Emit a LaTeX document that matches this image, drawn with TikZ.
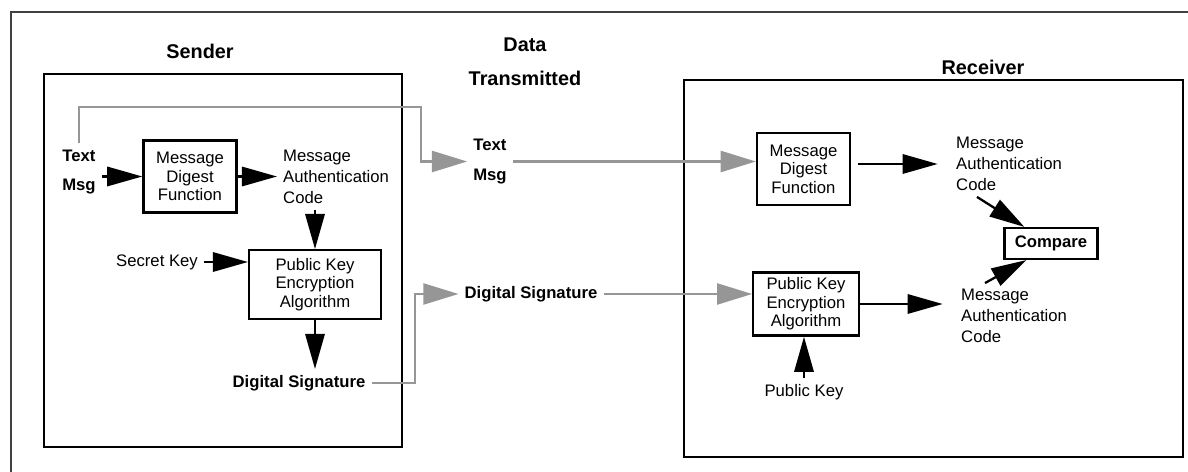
\documentclass[tikz,border=0pt]{standalone}
\usepackage{fontspec}
\setmainfont{Liberation Sans}
\usepackage{tikz}
\usetikzlibrary{arrows.meta,calc}
\usepackage{xcolor}
\definecolor{wire}{RGB}{150,150,150}

\begin{document}
\begin{tikzpicture}[x=0.02cm, y=-0.02cm,
    every node/.style={font=\fontsize{9.5}{10.5}\selectfont},
    heading/.style={font=\fontsize{11.3}{13.6}\selectfont\bfseries},
    tag/.style={font=\fontsize{9.5}{11.4}\selectfont\bfseries, align=center},
    fbox/.style={draw, line width=1.3pt, align=center, inner sep=2pt},
    mac/.style={font=\fontsize{9.5}{11.9}\selectfont, align=left, anchor=west},
    arr/.style={-{Triangle[length=20pt,width=11pt]}, line width=1.3pt},
    feed/.style={-{Triangle[length=20pt,width=12pt]}, draw=wire, line width=1.2pt},
    panel/.style={line width=1.5pt}]
    \useasboundingbox (0,0) rectangle (1188,472);
    \draw[line width=0.9pt, black!75] (11,472) -- (11,12) -- (1188,12);

    \node[heading] (sendertitle) at (200,51) {Sender};
    \node[heading, align=center] (datatitle) at (525,62) {Data\\[5.7pt]Transmitted};
    \node[heading] (receivertitle) at (983,67) {Receiver};

    \draw[panel] (44,74) rectangle (402,447);
    \draw[panel] (684,80) rectangle (1183,457);

    % sender
    \node[tag] (msg) at (79,172) {Text\\[5.6pt]Msg};
    \node[fbox, minimum width=53pt, minimum height=41pt] (digest) at (190,176.5) {Message\\Digest\\Function};
    \node[mac] (code) at (277,177) {Message\\Authentication\\Code};
    \node[fbox, minimum width=75pt, minimum height=39pt] (encrypt) at (315,284.5) {Public Key\\Encryption\\Algorithm};
    \node (secret) at (157,262) {Secret Key};
    \node[tag] (signature) at (299,383) {Digital Signature};

    \draw[arr] (msg.east |- digest) -- (digest.west);
    \draw[arr] (digest.east) -- (digest -| code.west);
    \draw[arr] (encrypt.north |- code.south) -- (encrypt.north);
    \draw[arr] (secret.east) -- (secret.east -| encrypt.west);
    \draw[arr] (encrypt.south) -- (encrypt.south |- signature.north);

    % data transmitted
    \node[tag] (msgdata) at (490,161.5) {Text\\[5.6pt]Msg};
    \node[tag] (sigdata) at (531,294) {Digital Signature};
    \coordinate (upper) at (421,107);
    \coordinate (lower) at (415,294);
    \draw[feed] (msg.north) |- (upper) |- (msgdata.west);
    \draw[feed] (signature.east) -| (lower) -- (sigdata.west);

    % receiver
    \node[fbox, minimum width=53pt, minimum height=41pt] (rdigest) at (803.5,169) {Message\\Digest\\Function};
    \node[mac] (rcode) at (950,164) {Message\\Authentication\\Code};
    \node[fbox, font=\fontsize{9.5}{11}\selectfont\bfseries, minimum width=53pt, minimum height=17.6pt] (compare) at (1051,243.5) {Compare};
    \node[fbox, minimum width=60pt, minimum height=36pt] (rencrypt) at (806,304) {Public Key\\Encryption\\Algorithm};
    \node[mac] (rcode2) at (955,316) {Message\\Authentication\\Code};
    \node (pubkey) at (804,392) {Public Key};

    \draw[feed] (msgdata.east) -- (msgdata.east -| rdigest.west);
    \draw[feed] (sigdata.east) -- (sigdata.east -| rencrypt.west);
    \draw[arr, shorten <=4pt, shorten >=7pt] (rdigest.east |- rcode) -- (rcode.west);
    \draw[arr, shorten >=7pt] (rencrypt.east) -- (rencrypt.east -| rcode2.west);
    \draw[arr] ($(rcode.south west)+(27,0)$) -- ($(compare.north west)+(21,0)$);
    \draw[arr] ($(rcode2.north west)+(30,0)$) -- ($(compare.south west)+(23,0)$);
    \draw[arr] (pubkey.north) -- (pubkey.north |- rencrypt.south);
\end{tikzpicture}
\end{document}
